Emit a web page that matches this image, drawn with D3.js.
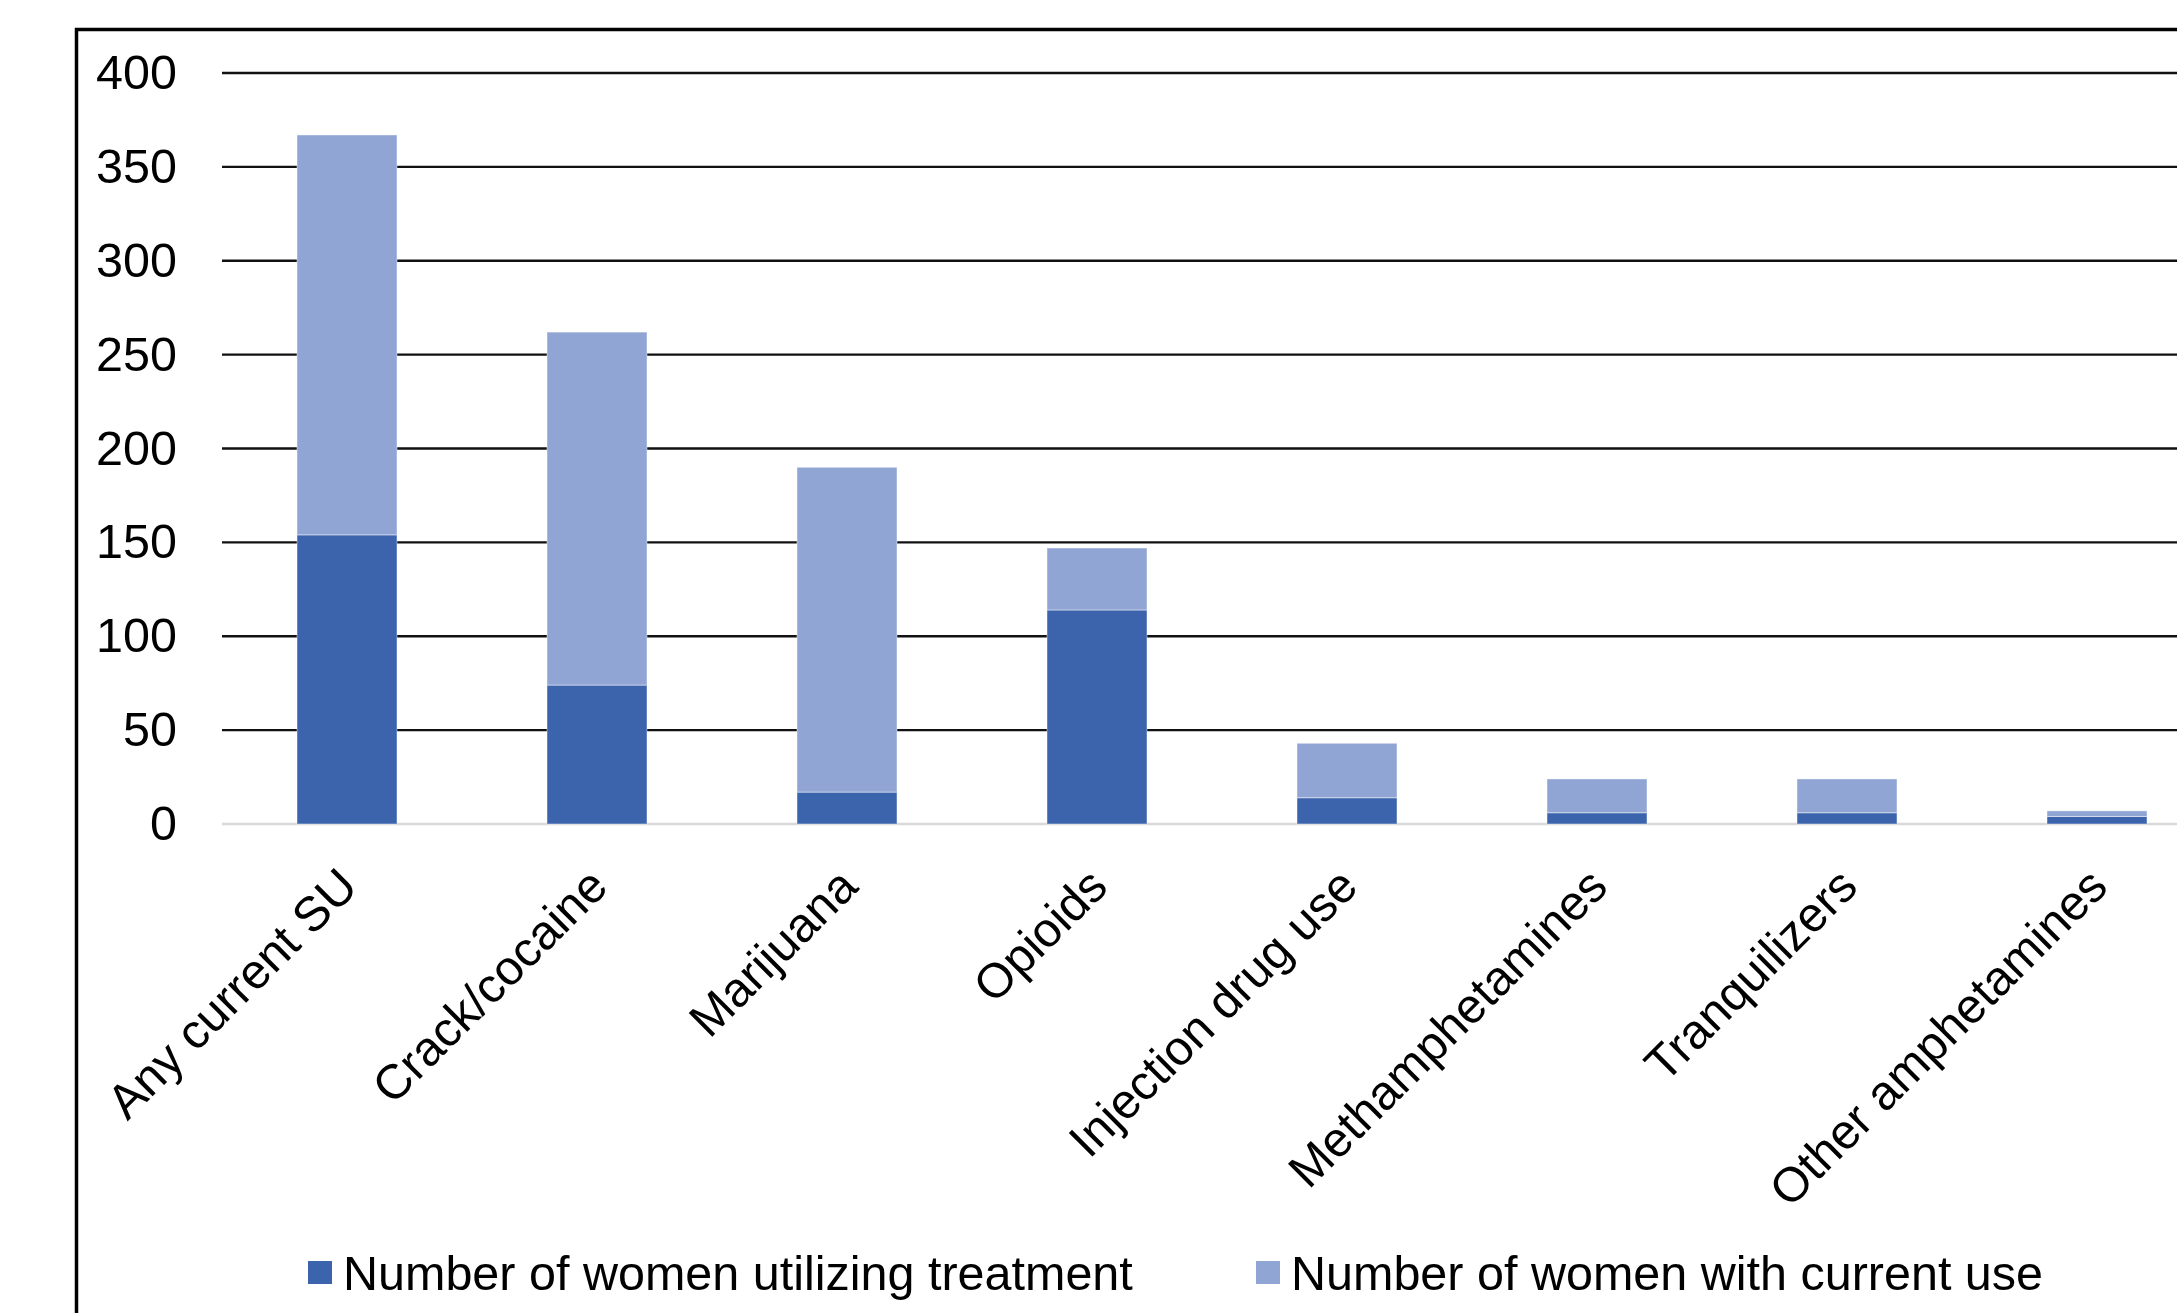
<!DOCTYPE html>
<html>
<head>
    <title>Substance use and treatment</title>
    <script src="https://d3js.org/d3.v7.min.js"></script>
    <style>
        body { margin: 0; background: #fff; }
        svg { display: block; font-family: "Liberation Sans", Arial, sans-serif; }
    </style>
</head>
<body>
    <svg id="chart"></svg>

    <script>
        // Chart data
        const categories = ["Any current SU", "Crack/cocaine", "Marijuana", "Opioids",
            "Injection drug use", "Methamphetamines", "Tranquilizers", "Other amphetamines"];
        const treatment = [154, 74, 17, 114, 14, 6, 6, 4];
        const currentUse = [213, 188, 173, 33, 29, 18, 18, 3];
        const seriesNames = ["Number of women utilizing treatment", "Number of women with current use"];
        const yTicks = [0, 50, 100, 150, 200, 250, 300, 350, 400];

        const width = 2177, height = 1313;
        const colors = ["#3c64ad", "#91a5d4"];
        const fontSize = 48.5;

        const svg = d3.select("#chart")
            .attr("width", width)
            .attr("height", height);

        // Outer frame (right and bottom fall outside the picture)
        svg.append("rect")
            .attr("x", 76.5).attr("y", 29.5)
            .attr("width", 2200).attr("height", 1400)
            .attr("fill", "none")
            .attr("stroke", "#000")
            .attr("stroke-width", 3.5);

        // Scales
        const x = d3.scaleBand()
            .domain(categories)
            .range([222, 2222])
            .paddingInner(0.6)
            .paddingOuter(0.3);

        const y = d3.scaleLinear()
            .domain([0, 400])
            .range([824, 73]);

        // Gridlines
        svg.append("g")
            .selectAll("line")
            .data(yTicks.filter(d => d > 0))
            .join("line")
                .attr("x1", 222).attr("x2", width)
                .attr("y1", d => y(d)).attr("y2", d => y(d))
                .attr("stroke", "#111")
                .attr("stroke-width", 2.4);

        // Zero line
        svg.append("line")
            .attr("x1", 222).attr("x2", width)
            .attr("y1", y(0)).attr("y2", y(0))
            .attr("stroke", "#d9d9d9")
            .attr("stroke-width", 2.5);

        // Y axis labels
        const yAxis = d3.axisLeft(y).tickValues(yTicks).tickSize(0).tickPadding(0);
        svg.append("g")
            .attr("transform", "translate(177,0)")
            .call(yAxis)
            .call(g => g.select(".domain").remove())
            .selectAll("text")
                .attr("font-family", "Liberation Sans, Arial, sans-serif")
                .attr("font-size", fontSize)
                .attr("fill", "#000");

        // Stacked bars
        const table = categories.map((c, i) => ({ cat: c, treatment: treatment[i], current: currentUse[i] }));
        const stacked = d3.stack().keys(["treatment", "current"])(table);

        svg.append("g")
            .selectAll("g")
            .data(stacked)
            .join("g")
                .attr("fill", (d, i) => colors[i])
            .selectAll("rect")
            .data(d => d)
            .join("rect")
                .attr("x", d => x(d.data.cat))
                .attr("width", x.bandwidth())
                .attr("y", d => y(d[1]))
                .attr("height", d => y(d[0]) - y(d[1]))
                .attr("stroke", "#fff")
                .attr("stroke-opacity", 0.45)
                .attr("stroke-width", 1);

        // X labels, rotated
        svg.append("g")
            .selectAll("text")
            .data(categories)
            .join("text")
                .attr("transform", d => `translate(${x(d) + x.bandwidth() / 2 + 13}, 889) rotate(-45)`)
                .attr("text-anchor", "end")
                .attr("font-size", fontSize)
                .attr("fill", "#000")
                .text(d => d);

        // Legend
        const legendX = [308, 1256];
        const legend = svg.append("g")
            .selectAll("g")
            .data(seriesNames)
            .join("g")
                .attr("transform", (d, i) => `translate(${legendX[i]}, 1261)`);

        legend.append("rect")
            .attr("width", 24).attr("height", 23)
            .attr("fill", (d, i) => colors[i]);

        legend.append("text")
            .attr("x", 35)
            .attr("y", 29)
            .attr("font-size", fontSize)
            .attr("fill", "#000")
            .text(d => d);
    </script>
</body>
</html>
